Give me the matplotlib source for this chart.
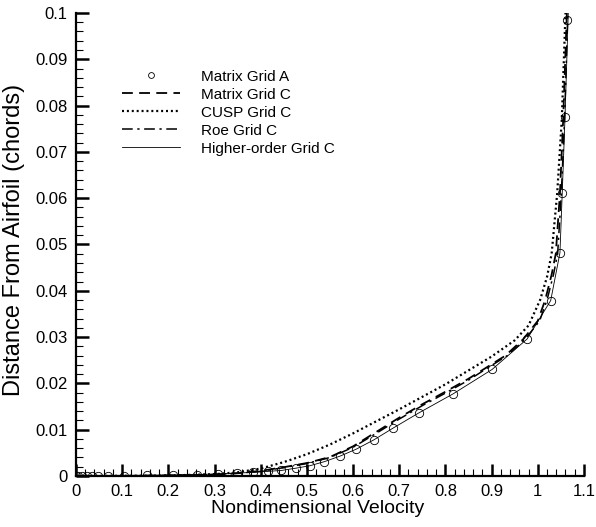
import matplotlib
matplotlib.use("Agg")
import matplotlib.pyplot as plt
from matplotlib.ticker import MultipleLocator, FormatStrFormatter

plt.rcParams["font.family"] = ["Liberation Sans", "DejaVu Sans"]

# Matrix Grid A (circles)
matrix_a_u = [0.0, 0.004, 0.012, 0.023, 0.034, 0.047, 0.069, 0.104, 0.153, 0.209,
              0.263, 0.307, 0.348, 0.383, 0.416, 0.445, 0.477, 0.506, 0.538, 0.572,
              0.607, 0.645, 0.686, 0.742, 0.816, 0.901, 0.977, 1.028, 1.048, 1.053,
              1.059, 1.064]
matrix_a_y = [0.0, 0.0, 0.0, 0.0, 0.00002, 0.00003, 0.00005, 0.0001, 0.00015, 0.0002,
              0.0003, 0.0004, 0.0006, 0.0008, 0.001, 0.0012, 0.0017, 0.0022, 0.0031, 0.0043,
              0.0058, 0.0078, 0.0103, 0.0136, 0.0177, 0.023, 0.0296, 0.0379, 0.0482, 0.0612,
              0.0776, 0.0985]

# Matrix Grid C (dashed)
matrix_c_u = [0.0, 0.1, 0.2, 0.3, 0.35, 0.4, 0.45, 0.5, 0.55, 0.6, 0.65, 0.7, 0.75,
              0.8, 0.85, 0.882, 0.93, 0.969, 1.0, 1.016, 1.03, 1.039, 1.048, 1.055, 1.063]
matrix_c_y = [0.0, 0.00003, 0.0001, 0.0003, 0.0006, 0.0011, 0.0019, 0.0028, 0.0041,
              0.0064, 0.0095, 0.0126, 0.0155, 0.0182, 0.021, 0.023, 0.026, 0.0296, 0.0335,
              0.038, 0.0435, 0.048, 0.061, 0.077, 0.1]

# CUSP Grid C (dotted)
cusp_u = [0.0, 0.1, 0.2, 0.3, 0.35, 0.4, 0.45, 0.5, 0.55, 0.6, 0.65, 0.7, 0.75, 0.8,
          0.85, 0.9, 0.95, 0.98, 1.005, 1.02, 1.03, 1.042, 1.052, 1.06]
cusp_y = [0.0, 0.00005, 0.0001, 0.0004, 0.0008, 0.0016, 0.003, 0.0047, 0.0068, 0.0092,
          0.0118, 0.0144, 0.0171, 0.0198, 0.0228, 0.0258, 0.0293, 0.0325, 0.038, 0.043,
          0.048, 0.061, 0.077, 0.1]

# Roe Grid C (dash-dot)
roe_u = [0.0, 0.1, 0.2, 0.3, 0.35, 0.4, 0.45, 0.5, 0.55, 0.6, 0.65, 0.7, 0.75,
         0.8, 0.85, 0.886, 0.934, 0.973, 1.004, 1.02, 1.034, 1.043, 1.051, 1.058, 1.065]
roe_y = [0.0, 0.00003, 0.0001, 0.0003, 0.0006, 0.001, 0.0018, 0.0027, 0.004,
         0.0062, 0.0092, 0.0123, 0.0152, 0.0179, 0.0207, 0.023, 0.026, 0.0296, 0.0335,
         0.038, 0.0435, 0.048, 0.061, 0.077, 0.1]

# Higher-order Grid C (thin solid)
higher_u = [0.0, 0.023, 0.069, 0.153, 0.263, 0.348, 0.416, 0.445, 0.477, 0.506, 0.538,
            0.572, 0.607, 0.645, 0.686, 0.742, 0.816, 0.901, 0.977, 1.028, 1.048, 1.053,
            1.059, 1.066]
higher_y = [0.0, 0.0, 0.00005, 0.00015, 0.0003, 0.0006, 0.001, 0.0012, 0.0017, 0.0022,
            0.0031, 0.0043, 0.0058, 0.0078, 0.0103, 0.0136, 0.0177, 0.023, 0.0296, 0.0379,
            0.0482, 0.0612, 0.0776, 0.1]

fig = plt.figure(figsize=(5.96, 5.27), dpi=100)
ax = fig.add_axes([0.1275, 0.0968, 0.8523, 0.8786])

ax.plot(matrix_a_u, matrix_a_y, linestyle="none", marker="o", markersize=6,
        markerfacecolor="none", markeredgecolor="black", markeredgewidth=0.6,
        label="Matrix Grid A", zorder=4)
ax.plot(matrix_c_u, matrix_c_y, color="black", lw=1.3, dashes=(6, 3.5),
        label="Matrix Grid C")
ax.plot(cusp_u, cusp_y, color="black", lw=1.6, dashes=(0.9, 1.3),
        label="CUSP Grid C")
ax.plot(roe_u, roe_y, color="black", lw=1.1, dashes=(7, 3, 1.5, 3),
        label="Roe Grid C")
ax.plot(higher_u, higher_y, color="black", lw=0.6, label="Higher-order Grid C")

ax.set_xlim(0, 1.1)
ax.set_ylim(0, 0.1)
ax.xaxis.set_major_locator(MultipleLocator(0.1))
ax.xaxis.set_minor_locator(MultipleLocator(0.02))
ax.yaxis.set_major_locator(MultipleLocator(0.01))
ax.yaxis.set_minor_locator(MultipleLocator(0.002))
ax.xaxis.set_major_formatter(FormatStrFormatter("%g"))
ax.yaxis.set_major_formatter(FormatStrFormatter("%g"))

for s in ["top", "right"]:
    ax.spines[s].set_visible(False)
for s in ["left", "bottom"]:
    ax.spines[s].set_linewidth(1.6)

ax.tick_params(which="major", direction="in", length=9, width=1.8,
               labelsize=12, pad=6, top=False, right=False)
ax.tick_params(which="minor", direction="in", length=5, width=0.8,
               top=False, right=False)

ax.set_xlabel("Nondimensional Velocity", fontsize=14)
ax.set_ylabel("Distance From Airfoil (chords)", fontsize=17)
ax.xaxis.set_label_coords(0.476, -0.052)
ax.yaxis.set_label_coords(-0.10, 0.51)

ax.legend(loc="upper left", bbox_to_anchor=(0.204, 0.8675), bbox_transform=fig.transFigure,
          frameon=False, fontsize=11, handlelength=3.8, handletextpad=1.4,
          labelspacing=0.26, borderpad=0, borderaxespad=0, markerscale=0.7)

fig.savefig("out.png", dpi=100)
